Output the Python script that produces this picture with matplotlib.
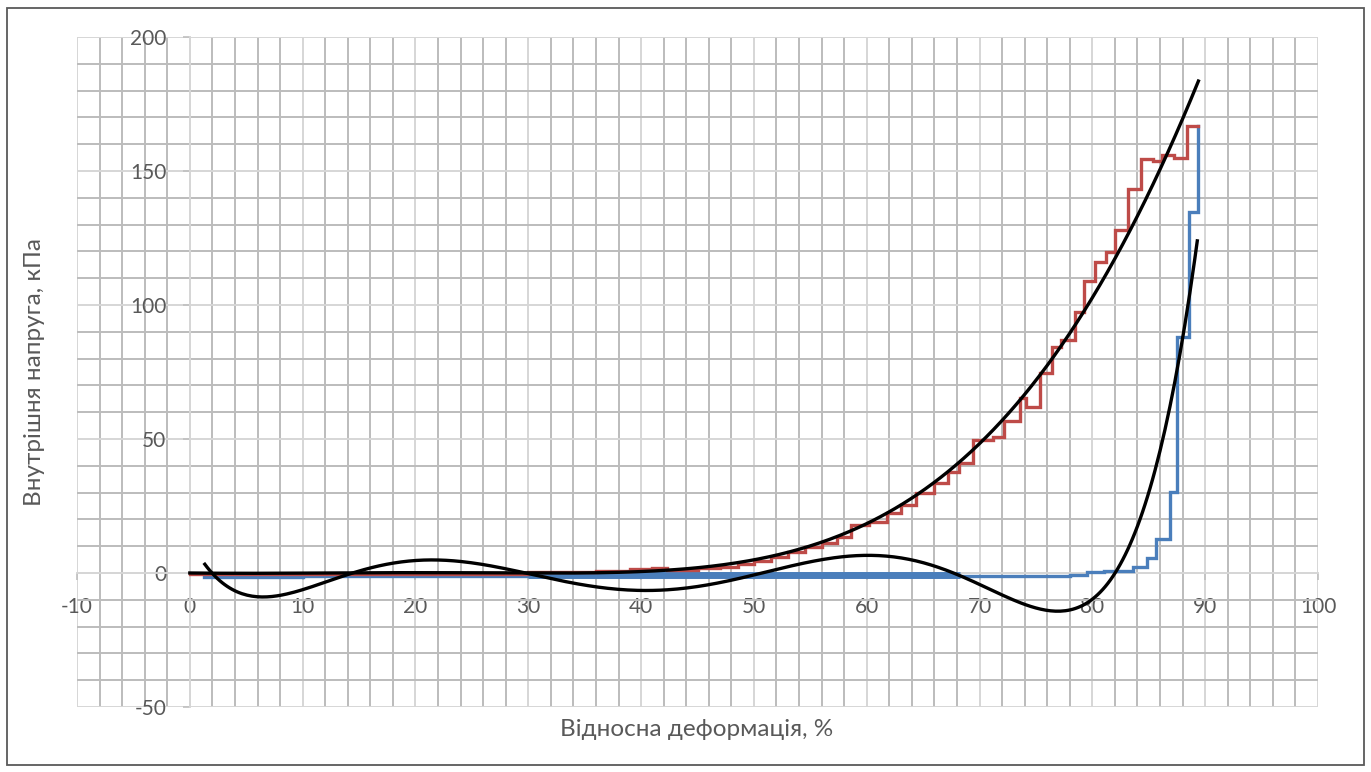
import numpy as np
import matplotlib
matplotlib.use("Agg")
import matplotlib.pyplot as plt
from matplotlib.patches import Rectangle
from numpy.polynomial import Polynomial

# ---------------- data ----------------
# loading curve (red), step plateaus: start x, level
red_x = [0, 10, 20, 30, 33, 36, 39, 41.0, 42.3, 45, 47, 48.6, 50.0, 51.5, 53.0,
         54.5, 56.0, 57.4, 58.6, 60.2, 61.8, 63.0, 64.4, 66.0, 67.2, 68.2, 69.4,
         71.2, 72.2, 73.6, 74.1, 75.4, 76.4, 77.2, 78.5, 79.3, 80.2, 81.2, 82.0,
         83.2, 84.3, 85.4, 86.2, 87.2, 88.4, 89.4]
red_y = [-0.4, -0.4, -0.3, 0.2, 0.5, 0.9, 1.4, 2.0, 1.2, 1.7, 2.4, 3.5, 4.5, 6.1, 8.0,
         9.8, 11.1, 13.5, 17.9, 19.1, 22.3, 25.4, 29.7, 33.5, 37.8, 41.0, 49.6,
         50.9, 56.7, 65.3, 62.0, 74.6, 84.4, 86.9, 97.5, 109.0, 115.9, 119.7, 128.0,
         143.2, 154.4, 153.7, 156.0, 154.7, 166.9, 166.9]

# unloading curve (blue), step plateaus: start x, level
blue_x = [1.3, 10, 20, 30, 68.3, 72, 76.5, 78.0, 79.5, 81.0, 82.0, 83.6, 84.8,
          85.6, 86.9, 87.5, 88.6, 89.4]
blue_y = [-1.4, -1.3, -1.2, -1.0, -1.0, -1.1, -1.1, -0.6, 0.2, 0.6, 0.9, 2.4, 5.7,
          12.7, 30.3, 88.2, 134.8, 166.9]
# dense noisy part of the unloading record (drawn as a band)
blue_band_x = [30, 68.3]
blue_band_y = [-0.9, -0.9]

# polynomial trend line of the loading curve (points read on the curve)
rt_x = [0, 10, 20, 30, 35, 40.8, 45.2, 49.6, 54.1, 58.5, 60.0, 62.9, 65.9, 68.3,
        69.4, 73.9, 76.2, 78.3, 79.8, 81.9, 84.2, 86.9, 89.4]
rt_y = [0, 0, 0, 0.1, 0.3, 0.5, 1.5, 4.9, 9.2, 15.4, 19.1, 25.0, 32.2, 42.2,
        46.5, 65.8, 78.2, 91.3, 101.9, 116.8, 135.4, 157.8, 184.0]

# polynomial trend line of the unloading curve (points read on the curve)
bt_x = [1.33, 2.07, 6.2, 10, 14.2, 21.6, 26.0, 30.4, 35, 40.2, 44, 48.2, 51.1,
        54.1, 57.0, 59.6, 62.9, 65.9, 67.4, 71.8, 76.5, 79.2, 80.7, 81.9, 83.6,
        86.0, 87.5, 88.5, 89.3]
bt_y = [3.0, -0.1, -9.1, -6.3, 0, 4.6, 3.0, 0, -4.5, -7.0, -6.3, -2.6, 1.1,
        4.2, 6.1, 6.5, 5.2, 2.4, 0, -8.8, -13.8, -11.9, -5.7, 0, 14.8,
        44.7, 69.5, 101.9, 126.8]

x_ticks = [-10, 0, 10, 20, 30, 40, 50, 60, 70, 80, 90, 100]
y_ticks = [-50, 0, 50, 100, 150, 200]
x_label = "Відносна деформація, %"
y_label = "Внутрішня напруга, кПа"

# ---------------- figure ----------------
plt.rcParams['font.family'] = ['Lato', 'DejaVu Sans']
W, H = 1371, 772
fig = plt.figure(figsize=(W / 100, H / 100), dpi=100)
ax = fig.add_axes([77 / W, 1 - 707 / H, (1318 - 77) / W, (707 - 37) / H])

ax.set_xlim(-10, 100)
ax.set_ylim(-50, 200)
ax.set_xticks(x_ticks)
ax.set_yticks(y_ticks)
ax.set_xticks(np.arange(-10, 101, 2), minor=True)
ax.set_yticks(np.arange(-50, 201, 10), minor=True)
ax.grid(which='minor', color='#bcbcbc', linewidth=1.4, zorder=0)
ax.grid(which='major', color='#d6d6d6', linewidth=1.4, zorder=0)
ax.set_axisbelow(True)

for s in ['top', 'right']:
    ax.spines[s].set_visible(False)
ax.spines['left'].set_position(('data', 0))
ax.spines['bottom'].set_position(('data', 0))
for s in ['left', 'bottom']:
    ax.spines[s].set_color('#d6d6d6')
    ax.spines[s].set_linewidth(1.4)

ax.tick_params(which='major', direction='out', length=5, width=1.2,
               color='#bfbfbf', labelcolor='#595959', labelsize=15)
ax.tick_params(axis='y', which='major', pad=12)
ax.tick_params(axis='x', which='major', pad=12)
ax.tick_params(which='minor', length=0)
ax.set_xticklabels([str(v) for v in x_ticks])
ax.set_yticklabels([str(v) for v in y_ticks])

# data series
ax.plot(blue_x, blue_y, drawstyle='steps-post', color='#4a7ebb', lw=2.4,
        solid_joinstyle='miter', zorder=3)
ax.plot(blue_band_x, blue_band_y, color='#4a7ebb', lw=5.0,
        solid_capstyle='butt', zorder=3)
ax.plot(red_x, red_y, drawstyle='steps-post', color='#be4b48', lw=2.4,
        solid_joinstyle='miter', zorder=4)

# trend lines (order-6 polynomial fits, as in the original chart)
for tx, ty in [(rt_x, rt_y), (bt_x, bt_y)]:
    p = Polynomial.fit(tx, ty, 6)
    xx = np.linspace(min(tx), max(tx), 400)
    ax.plot(xx, p(xx), color='black', lw=2.4, zorder=5)

fig.text(697 / W, 1 - 730 / H, x_label, ha='center', va='center',
         fontsize=17.5, color='#595959')
fig.text(35 / W, 1 - 372 / H, y_label, ha='center', va='center',
         rotation=90, fontsize=17.5, color='#595959')

fig.patches.append(Rectangle((7 / W, 1 - 765 / H), (1364 - 7) / W, (765 - 8) / H,
                             transform=fig.transFigure, fill=False,
                             edgecolor='#595959', linewidth=1.3))

fig.savefig('out.png', dpi=100)
